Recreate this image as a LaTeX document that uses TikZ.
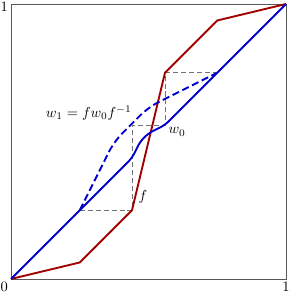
\documentclass[tikz,border=0pt]{standalone}
\usepackage{amsmath,amssymb}
\usepackage{xcolor}
\usepackage{tikz}
\usetikzlibrary{calc}
\definecolor{fred}{RGB}{160,0,0}
\definecolor{wblue}{RGB}{0,0,205}
\tikzset{
	frame/.style={draw=black!65, line width=0.6pt},
	guide/.style={draw=black!55, line width=0.6pt, dash pattern=on 3.5pt off 2pt},
	graphline/.style={line width=1.3pt, line join=round},
	ticklabel/.style={inner sep=2pt}
}

\begin{document}
\begin{tikzpicture}[x=6.68cm, y=6.68cm,
					fgraph/.style={graphline, draw=fred},
					wgraph/.style={graphline, draw=wblue, rounded corners=3pt},
					wconj/.style={graphline, draw=wblue, rounded corners=8pt,
						dash pattern=on 5pt off 2.5pt},
					]
					\useasboundingbox (-0.04,-0.051) rectangle (1.0145,1.0145);
					
					%% -- Unit square
					\coordinate (o) at (0,0);
					\coordinate (e) at (1,1);
					\draw[frame] (o) rectangle (e);
					\node[ticklabel, below left] (zero) at (o) {$0$};
					\node[ticklabel, below] (onex) at (1,0) {$1$};
					\node[ticklabel, left] (oney) at (0,0.99) {$1$};
					
					%% -- Corners of f
					\coordinate (f1) at (0.25,0.06);
					\coordinate (f2) at (0.44,0.25);
					\coordinate (f3) at (0.56,0.75);
					\coordinate (f4) at (0.75,0.94);
					
					%% -- Guide lines
					\draw[guide] (0.25,0.25) -- (f2) -- (0.44,0.56) -- (0.56,0.56)
					-- (f3) -- (0.75,0.75);
					
					%% -- f
					\draw[fgraph] (o) -- (f1) -- (f2) -- (f3) -- (f4) -- (e);
					
					%% -- w0
					\draw[wgraph] (o) -- (0.44,0.44) -- (0.47,0.5) -- (0.5,0.53)
					-- (0.56,0.56) -- (e);
					
					%% -- w1 = f w0 f^-1
					\draw[wconj] (0.25,0.25) -- (0.375,0.5) -- (0.5,0.625) -- (0.75,0.75);
					
					%% -- Labels
					\node (lw1) at (0.283,0.604) {$w_1 = f w_0 f^{-1}$};
					\node (lw0) at (0.604,0.535) {$w_0$};
					\node (lf) at (0.48,0.297) {$f$};
					
				\end{tikzpicture}
\end{document}
